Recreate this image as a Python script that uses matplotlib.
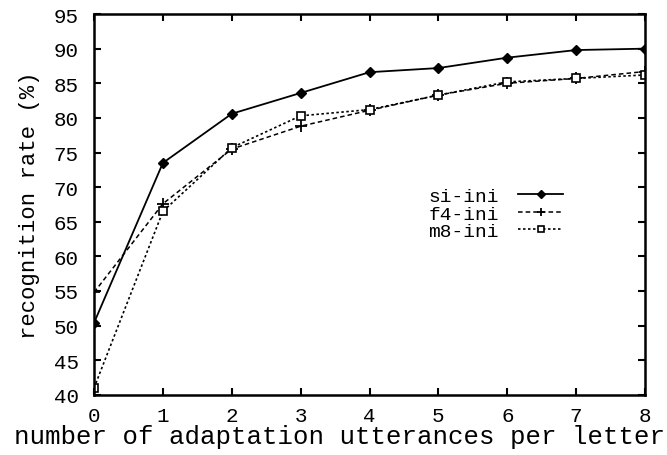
import numpy as np
import matplotlib
matplotlib.use("Agg")
import matplotlib.pyplot as plt

plt.rcParams['font.family'] = ['Liberation Mono', 'DejaVu Sans Mono']

# adaptation utterances per letter
x = [0, 1, 2, 3, 4, 5, 6, 7, 8]
# recognition rates (%)
si_ini = [50.4, 73.5, 80.6, 83.6, 86.6, 87.2, 88.7, 89.8, 90.0]
f4_ini = [54.8, 67.6, 75.5, 78.8, 81.1, 83.3, 85.0, 85.7, 86.7]
m8_ini = [41.0, 66.5, 75.7, 80.3, 81.2, 83.3, 85.2, 85.7, 86.2]

fig = plt.figure(figsize=(6.67, 4.56), dpi=100)
ax = fig.add_axes([0.141, 0.132, 0.826, 0.835])

ax.plot(x, si_ini, color='black', linestyle='-', linewidth=1.3,
        marker='D', markersize=5.5, label='si-ini')
ax.plot(x, f4_ini, color='black', linestyle=(0, (3, 2)), linewidth=1.1,
        marker='+', markersize=8, markeredgewidth=1.3, label='f4-ini')
ax.plot(x, m8_ini, color='black', linestyle=(0, (1.5, 1.5)), linewidth=1.2,
        marker='s', markersize=6, markerfacecolor='white',
        markeredgewidth=1.2, label='m8-ini')

ax.set_xlim(0, 8)
ax.set_ylim(40, 95)
ax.set_xticks(range(0, 9))
ax.set_yticks(range(40, 96, 5))
ax.tick_params(direction='in', top=True, right=True, length=5, width=1.5,
               labelsize=15, colors='black')
ax.tick_params(axis='y', pad=11)
ax.tick_params(axis='x', pad=8)
for s in ax.spines.values():
    s.set_linewidth(1.8)

ax.set_xlabel('number of adaptation utterances per letter', fontsize=18.5,
              labelpad=0)
ax.xaxis.set_label_coords(0.445, -0.077)
ax.set_ylabel('recognition rate (%)', fontsize=16, labelpad=10)

ax.legend(loc='upper right', bbox_to_anchor=(0.851, 0.545), frameon=False,
          markerfirst=False, fontsize=14, handlelength=2.3,
          handletextpad=1.0, labelspacing=0.0, borderpad=0,
          borderaxespad=0, markerscale=0.8)

fig.savefig('out.png', dpi=100)
